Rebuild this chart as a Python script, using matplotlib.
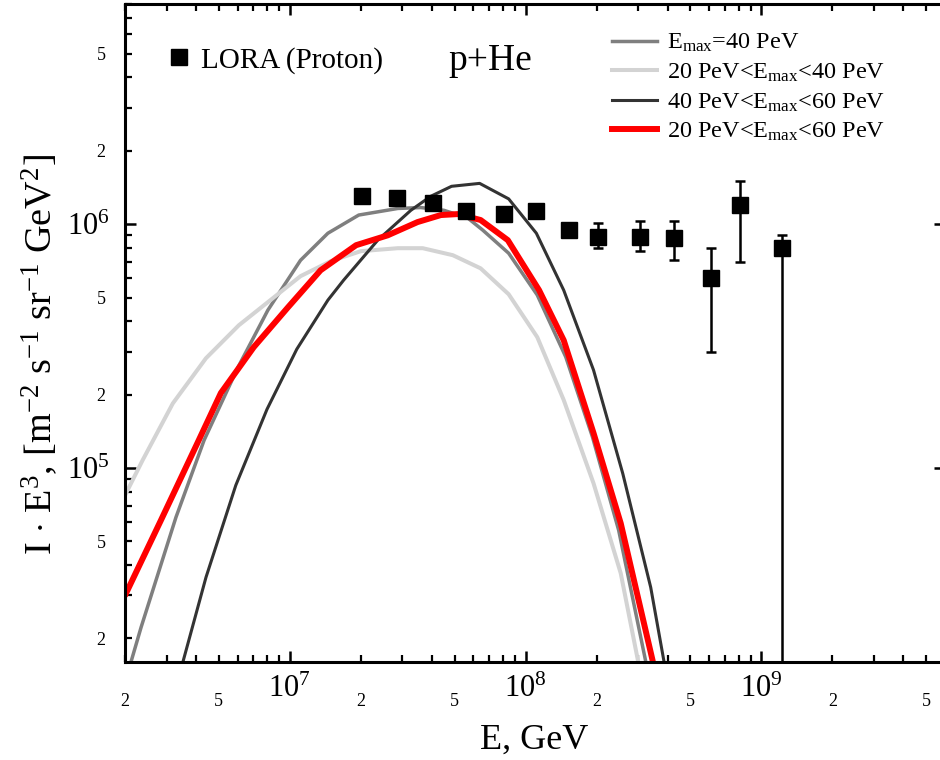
import numpy as np
import matplotlib.pyplot as plt
from matplotlib.lines import Line2D
from matplotlib.ticker import LogLocator, FuncFormatter

plt.rcParams['font.family'] = ['Liberation Serif', 'DejaVu Serif']
plt.rcParams['mathtext.fontset'] = 'custom'
plt.rcParams['mathtext.rm'] = 'Liberation Serif'
plt.rcParams['mathtext.it'] = 'Liberation Serif:italic'
plt.rcParams['mathtext.bf'] = 'Liberation Serif:bold'

# LORA (proton) points, GeV and I*E^3
lora_e = [2.02e7, 2.84e7, 4.03e7, 5.57e7, 8.07e7, 1.11e8, 1.52e8,
          2.02e8, 3.04e8, 4.24e8, 6.08e8, 8.07e8, 1.22e9]
lora_i = [1.30e6, 1.28e6, 1.22e6, 1.13e6, 1.10e6, 1.13e6, 9.5e5,
          8.9e5, 8.9e5, 8.8e5, 6.0e5, 1.20e6, 8.0e5]
lora_lo = [1.30e6, 1.28e6, 1.22e6, 1.13e6, 1.10e6, 1.13e6, 9.5e5,
           7.97e5, 7.75e5, 7.11e5, 2.98e5, 6.98e5, 1e2]
lora_hi = [1.30e6, 1.28e6, 1.22e6, 1.13e6, 1.10e6, 1.13e6, 9.5e5,
           1.01e6, 1.03e6, 1.03e6, 7.97e5, 1.50e6, 9.0e5]

# E_max = 40 PeV
e40 = [2.12e6, 2.34e6, 3.29e6, 4.33e6, 6.03e6, 8.07e6, 1.11e7, 1.45e7, 1.96e7,
       2.87e7, 3.59e7, 4.50e7, 5.68e7, 6.58e7, 8.47e7, 1.12e8, 1.48e8, 1.92e8,
       2.48e8, 3.22e8, 3.45e8]
i40 = [1.60e4, 2.22e4, 6.28e4, 1.30e5, 2.59e5, 4.44e5, 7.11e5, 9.18e5, 1.09e6,
       1.16e6, 1.17e6, 1.14e6, 1.06e6, 9.45e5, 7.6e5, 5.12e5, 2.85e5, 1.34e5,
       5.55e4, 1.63e4, 1.17e4]

# 20 PeV < E_max < 40 PeV
e2040 = [2.02e6, 2.38e6, 3.19e6, 4.41e6, 6.08e6, 8.47e6, 1.11e7, 1.49e7, 2.00e7,
         2.87e7, 3.66e7, 4.91e7, 6.44e7, 8.47e7, 1.12e8, 1.45e8, 1.94e8,
         2.53e8, 2.99e8, 3.22e8]
i2040 = [7.87e4, 1.08e5, 1.84e5, 2.82e5, 3.85e5, 4.97e5, 6.12e5, 7.05e5, 7.75e5,
         7.97e5, 7.97e5, 7.46e5, 6.59e5, 5.16e5, 3.44e5, 1.90e5, 8.65e4,
         3.70e4, 1.63e4, 1.11e4]

# 40 PeV < E_max < 60 PeV
e4060 = [3.52e6, 4.41e6, 5.90e6, 8.00e6, 1.07e7, 1.45e7, 1.69e7, 2.36e7, 3.26e7,
         3.95e7, 4.85e7, 6.38e7, 8.47e7, 1.11e8, 1.45e8, 1.94e8, 2.58e8,
         3.39e8, 3.85e8, 4.04e8]
i4060 = [1.60e4, 3.56e4, 8.49e4, 1.74e5, 3.07e5, 4.88e5, 5.89e5, 8.6e5, 1.14e6,
         1.30e6, 1.43e6, 1.47e6, 1.27e6, 9.18e5, 5.36e5, 2.52e5, 9.5e4,
         3.24e4, 1.63e4, 1.22e4]

# 20 PeV < E_max < 60 PeV
e2060 = [2.02e6, 2.84e6, 4.11e6, 5.10e6, 7.03e6, 9.82e6, 1.35e7, 1.91e7, 2.60e7,
         3.48e7, 4.37e7, 5.15e7, 6.44e7, 8.40e7, 1.14e8, 1.45e8, 1.94e8,
         2.53e8, 3.45e8, 3.73e8]
i2060 = [3.06e4, 6.1e4, 1.30e5, 2.03e5, 3.13e5, 4.56e5, 6.47e5, 8.2e5, 9.0e5,
         1.02e6, 1.09e6, 1.10e6, 1.04e6, 8.6e5, 5.36e5, 3.34e5, 1.39e5,
         5.93e4, 1.63e4, 1.1e4]

fig = plt.figure(figsize=(9.4, 7.6), dpi=100)
ax = fig.add_axes([125 / 940, 98 / 760, 820 / 940, 658 / 760])
ax.set_xscale('log')
ax.set_yscale('log')

l1, = ax.plot(e40, i40, color='#7f7f7f', lw=2.5, label=r'E$_{\rm max}$=40 PeV')
l2, = ax.plot(e2040, i2040, color='#d3d3d3', lw=2.9, label=r'20 PeV<E$_{\rm max}$<40 PeV')
l3, = ax.plot(e4060, i4060, color='#333333', lw=2.2, label=r'40 PeV<E$_{\rm max}$<60 PeV')
l4, = ax.plot(e2060, i2060, color='#ff0000', lw=4.3, label=r'20 PeV<E$_{\rm max}$<60 PeV')

lora_i = np.array(lora_i)
yerr = [lora_i - np.array(lora_lo), np.array(lora_hi) - lora_i]
ax.errorbar(lora_e, lora_i, yerr=yerr, fmt='s', color='k', ms=11.5,
            elinewidth=1.8, capsize=3.5, capthick=1.8, zorder=5)

ax.set_xlim(2e6, 6e9)
ax.set_ylim(1.6e4, 8e6)

def minor_fmt(v, pos):
    m = int(round(v / 10 ** np.floor(np.log10(v) + 1e-9)))
    return str(m) if m in (2, 5) else ''

for axis in (ax.xaxis, ax.yaxis):
    axis.set_major_locator(LogLocator(base=10, numticks=100))
    axis.set_minor_locator(LogLocator(base=10, subs=np.arange(2, 10), numticks=100))
    axis.set_minor_formatter(FuncFormatter(minor_fmt))

ax.tick_params(which='both', direction='in', top=True, right=True)
ax.tick_params(which='major', length=8, width=1.8, labelsize=22)
ax.tick_params(which='minor', length=5, width=1.6, labelsize=13, right=False)
ax.tick_params(axis='x', which='major', pad=9)
ax.tick_params(axis='x', which='minor', pad=22)
ax.tick_params(axis='y', which='major', pad=11)
ax.tick_params(axis='y', which='minor', pad=14)
for s in ax.spines.values():
    s.set_linewidth(2.2)

leg = ax.legend(handles=[l1, l2, l3, l4], loc='upper left',
                bbox_to_anchor=((612 - 125) / 820, (662 - 32) / 658),
                frameon=False, fontsize=17.5, handlelength=1.85,
                handletextpad=0.4, labelspacing=0.3, borderpad=0, borderaxespad=0)
ax.add_artist(leg)

sq = Line2D([], [], marker='s', ls='none', color='k', ms=11.5, label='LORA (Proton)')
ax.legend(handles=[sq], loc='upper left',
          bbox_to_anchor=((169 - 125) / 820, (662 - 47) / 658),
          frameon=False, fontsize=21, handlelength=0.7, handletextpad=0.4,
          borderpad=0, borderaxespad=0)

fig.text(490 / 940, 1 - 61 / 760, 'p+He', fontsize=27, ha='center', va='center')
fig.text(534 / 940, 1 - 740 / 760, 'E, GeV', fontsize=26, ha='center', va='center')
fig.text(40 / 940, 1 - 354 / 760,
         r'I $\cdot$ E$^3$, [m$^{-2}$ s$^{-1}$ sr$^{-1}$ GeV$^2$]',
         fontsize=27.5, rotation=90, ha='center', va='center')

fig.savefig('out.png', dpi=100)
